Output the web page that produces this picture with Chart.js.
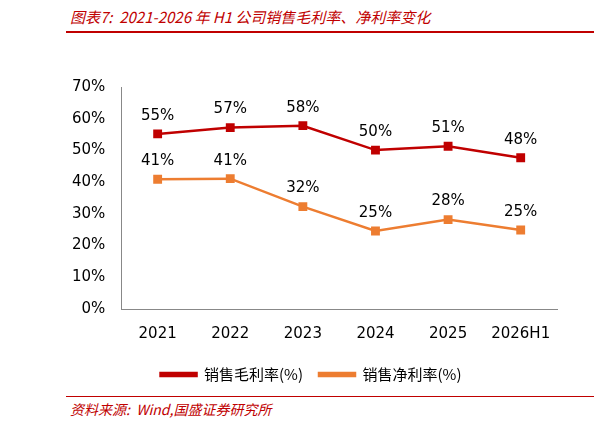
<!DOCTYPE html>
<html><head><meta charset="utf-8">
<script src="https://cdn.jsdelivr.net/npm/chart.js@4"></script>
<style>
body{margin:0;width:594px;height:428px;background:#fff;font-family:"Noto Sans CJK SC",sans-serif;position:relative;overflow:hidden}
#t{position:absolute;left:70px;top:6px;color:#c00000;font-style:italic;font-size:15px}
#hl{position:absolute;left:66px;top:31px;width:528px;height:2px;background:#c00000}
#s{position:absolute;left:70px;top:399px;color:#c00000;font-style:italic;font-size:14px}
#bl{position:absolute;left:66px;top:396px;width:528px;height:1px;background:#c00000}
#w{position:absolute;left:64px;top:70px;width:500px;height:322px}
</style></head><body>
<div id="t">图表7:&nbsp; 2021-2026 年 H1 公司销售毛利率、净利率变化</div>
<div id="hl"></div>
<div id="w"><canvas id="c"></canvas></div>
<div id="bl"></div>
<div id="s">资料来源:&nbsp; Wind,国盛证券研究所</div>
<script>
const categories=["2021","2022","2023","2024","2025","2026H1"];
const grossMargin=[55.2,57.2,57.8,50.1,51.3,47.7];
const netMargin=[40.9,41.1,32.3,24.6,28.2,24.9];
const labelPlugin={id:'lbl',afterDatasetsDraw(ch){const c=ch.ctx;c.save();c.font='15px "DejaVu Sans"';c.fillStyle='#000';c.textAlign='center';
ch.data.datasets.forEach((d,i)=>{ch.getDatasetMeta(i).data.forEach((p,j)=>{c.fillText(Math.round(d.data[j])+'%',p.x,p.y-18);});});c.restore();}};
new Chart(document.getElementById('c'),{type:'line',
data:{labels:categories,datasets:[
{label:'销售毛利率(%)',data:grossMargin,borderColor:'#c00000',backgroundColor:'#c00000',borderWidth:2.5,pointStyle:'rect',pointRadius:4.5},
{label:'销售净利率(%)',data:netMargin,borderColor:'#ed7d31',backgroundColor:'#ed7d31',borderWidth:2.5,pointStyle:'rect',pointRadius:4.5}]},
options:{responsive:true,maintainAspectRatio:false,animation:false,
layout:{padding:{left:0,right:6,top:8,bottom:0}},
plugins:{legend:{position:'bottom',labels:{usePointStyle:false,boxWidth:36,boxHeight:3,padding:16,color:'#000',font:{size:15,family:'"Noto Sans CJK SC"'}}},tooltip:{enabled:false}},
scales:{x:{offset:true,grid:{display:false},border:{color:'#888'},ticks:{padding:8,color:'#000',font:{size:15,family:'"DejaVu Sans"'}}},
y:{min:0,max:70,ticks:{stepSize:10,padding:8,color:'#000',callback:v=>v+'%',font:{size:15,family:'"DejaVu Sans"'}},grid:{display:false},border:{color:'#888'}}}},
plugins:[labelPlugin]});
</script></body></html>
